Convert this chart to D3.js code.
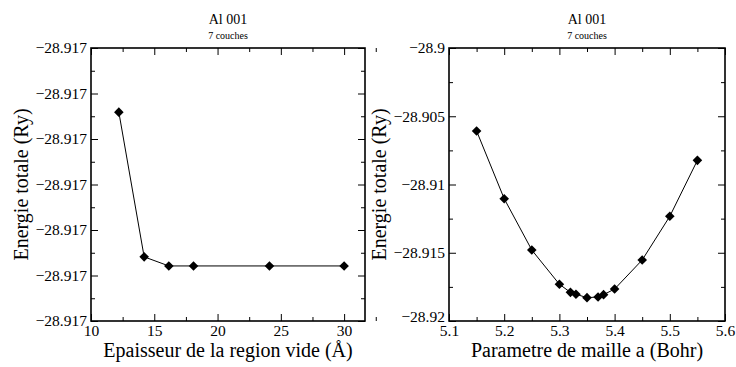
<!DOCTYPE html>
<html>
<head>
<meta charset="utf-8">
<script src="https://cdn.jsdelivr.net/npm/d3@7"></script>
<style>
  body { margin: 0; background: #fff; }
  svg text { font-family: "Liberation Serif", Tinos, "Nimbus Roman", "Noto Serif", "DejaVu Serif", serif; }
</style>
</head>
<body>
<svg id="chart" width="736" height="367"></svg>
<script>
// left panel: energy vs vacuum thickness
const vacuumX = [12.2, 14.2, 16.15, 18.1, 24.1, 30.0];
const vacuumE = [-28.916841, -28.917159, -28.917179, -28.917179, -28.917179, -28.917179];
const vacuumXTicks = [10, 15, 20, 25, 30];
const vacuumYTicks = [-28.9173, -28.9172, -28.9171, -28.917, -28.9169, -28.9168, -28.9167];

// right panel: energy vs lattice parameter
const latticeA = [5.15, 5.2, 5.25, 5.3, 5.32, 5.33, 5.35, 5.37, 5.38, 5.4, 5.45, 5.5, 5.55];
const latticeE = [-28.90608, -28.91104, -28.9148, -28.91731, -28.9179, -28.91804, -28.91829,
                  -28.91824, -28.91807, -28.91766, -28.91553, -28.91233, -28.90823];
const latticeXTicks = [5.1, 5.2, 5.3, 5.4, 5.5, 5.6];
const latticeYTicks = [-28.92, -28.915, -28.91, -28.905, -28.9];

const FONT = "Liberation Serif, Tinos, Nimbus Roman, Noto Serif, DejaVu Serif, serif";
const svg = d3.select("#chart");

function panel(opts) {
  const { left, right, top, bottom } = opts;
  const x = d3.scaleLinear().domain(opts.xDomain).range([left, right]);
  const y = d3.scaleLinear().domain(opts.yDomain).range([bottom, top]);
  const g = svg.append("g");

  // minor ticks, all four sides
  const minor = (axis, scale, vals, tr) => g.append("g")
    .attr("transform", tr)
    .call(axis(scale).tickValues(vals).tickSize(-4).tickFormat(""))
    .call(s => s.select(".domain").remove());
  minor(d3.axisBottom, x, opts.xMinor, `translate(0,${bottom})`);
  minor(d3.axisTop, x, opts.xMinor, `translate(0,${top})`);
  minor(d3.axisLeft, y, opts.yMinor, `translate(${left},0)`);
  minor(d3.axisRight, y, opts.yMinor, `translate(${right},0)`);

  // major ticks with labels
  const styleText = s => {
    s.attr("font-family", FONT).attr("font-size", 15.5);
    s.selectAll("text").attr("font-family", FONT);
  };
  g.append("g").attr("transform", `translate(0,${bottom})`)
    .call(d3.axisBottom(x).tickValues(opts.xTicks).tickSize(-7).tickPadding(4).tickFormat(d3.format("~f")))
    .call(s => s.select(".domain").remove()).call(styleText);
  g.append("g").attr("transform", `translate(0,${top})`)
    .call(d3.axisTop(x).tickValues(opts.xTicks).tickSize(-7).tickFormat(""))
    .call(s => s.select(".domain").remove());
  const yAxis = g.append("g").attr("transform", `translate(${left},0)`)
    .call(d3.axisLeft(y).tickValues(opts.yTicks).tickSize(-7).tickPadding(4).tickFormat(opts.yFormat))
    .call(s => s.select(".domain").remove()).call(styleText);
  // lowest label sits a little higher so it clears the first x label
  yAxis.selectAll(".tick text").filter((d, i) => i === 0).attr("dy", opts.lowDy);
  g.append("g").attr("transform", `translate(${right},0)`)
    .call(d3.axisRight(y).tickValues(opts.yTicks).tickSize(-7).tickFormat(""))
    .call(s => s.select(".domain").remove());

  g.selectAll(".tick line").attr("stroke", "#000").attr("stroke-width", 1);

  // frame
  g.append("rect")
    .attr("x", left).attr("y", top)
    .attr("width", right - left).attr("height", bottom - top)
    .attr("fill", "none").attr("stroke", "#000").attr("stroke-width", 1.6);

  const pts = opts.xs.map((v, i) => [v, opts.ys[i]]);
  g.append("path")
    .datum(pts)
    .attr("fill", "none")
    .attr("stroke", "#000")
    .attr("stroke-width", 1)
    .attr("d", d3.line().x(d => x(d[0])).y(d => y(d[1])));

  g.selectAll(".mk")
    .data(pts)
    .enter().append("path")
    .attr("class", "mk")
    .attr("d", d3.symbol(d3.symbolSquare, 46))
    .attr("transform", d => `translate(${x(d[0])},${y(d[1])}) rotate(45)`)
    .attr("fill", "#000");

  const cx = (left + right) / 2;
  const label = (x0, y0, size, txt) => g.append("text")
    .attr("x", x0).attr("y", y0).attr("text-anchor", "middle")
    .attr("font-family", FONT).attr("font-size", size).text(txt);
  label(cx, 24, 14, "Al 001");
  label(cx, 39, 10, "7 couches");
  label(cx, 357, 20, opts.xLabel);
  label(0, 0, 20, "Energie totale (Ry)")
    .attr("transform", `translate(${left - 63},${(top + bottom) / 2}) rotate(-90)`);
}

const range = (a, b, s) => d3.range(0, Math.round((b - a) / s) + 1).map(i => a + i * s);

panel({
  left: 91, right: 365, top: 48, bottom: 321,
  xDomain: [10, 31.65], yDomain: [-28.9173, -28.9167],
  xs: vacuumX, ys: vacuumE,
  xTicks: vacuumXTicks, xMinor: range(12.5, 30, 5),
  yTicks: vacuumYTicks, yMinor: range(-28.91725, -28.91675, 0.0001),
  yFormat: d3.format(".3f"), lowDy: "0.32em",
  xLabel: "Epaisseur de la region vide (Å)"
});

panel({
  left: 449, right: 725, top: 48, bottom: 321,
  xDomain: [5.1, 5.6], yDomain: [-28.92, -28.9],
  xs: latticeA, ys: latticeE,
  xTicks: latticeXTicks, xMinor: range(5.15, 5.55, 0.1),
  yTicks: latticeYTicks, yMinor: range(-28.9175, -28.9025, 0.005),
  yFormat: d3.format(".3~f"), lowDy: "0.05em",
  xLabel: "Parametre de maille a (Bohr)"
});
</script>
</body>
</html>
